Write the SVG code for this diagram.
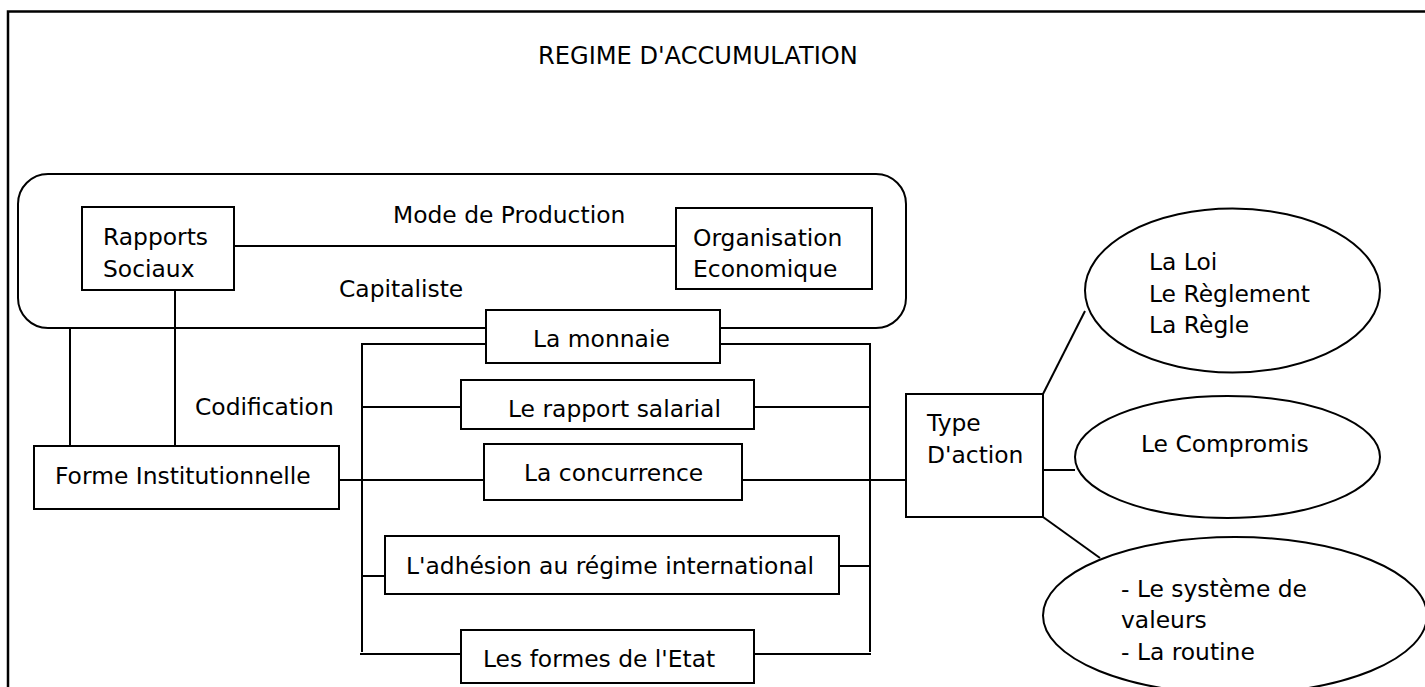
<svg xmlns="http://www.w3.org/2000/svg" width="1425" height="687" viewBox="0 0 1425 687">
<style>
text{font-family:"DejaVu Sans","Liberation Sans",sans-serif;font-size:23.4px;fill:#000}
.b{fill:#fff;stroke:#000;stroke-width:2}
.c line,.c path{stroke:#000;stroke-width:2;fill:none}
</style>
<rect width="1425" height="687" fill="#fff"/>
<path d="M8,687 V11.5 H1425" fill="none" stroke="#000" stroke-width="2.5"/>
<text id="title" x="538" y="64" style="font-size:24.1px">REGIME D'ACCUMULATION</text>
<g id="mode-production">
<rect class="b" x="18" y="174" width="888" height="154" rx="30"/>
<text x="393" y="223">Mode de Production</text>
<text x="339" y="297">Capitaliste</text>
</g>
<g class="c" id="connectors">
<line x1="234" y1="246" x2="676" y2="246"/>
<line x1="70" y1="328" x2="70" y2="446"/>
<line x1="175" y1="290" x2="175" y2="446"/>
<line x1="339" y1="480" x2="484" y2="480"/>
<line x1="362" y1="344" x2="362" y2="652"/>
<line x1="361" y1="344" x2="486" y2="344"/>
<line x1="362" y1="407" x2="461" y2="407"/>
<line x1="362" y1="576" x2="385" y2="576"/>
<line x1="360" y1="654" x2="461" y2="654"/>
<line x1="720" y1="344" x2="871" y2="344"/>
<line x1="870" y1="344" x2="870" y2="652"/>
<line x1="754" y1="407" x2="871" y2="407"/>
<line x1="742" y1="480" x2="906" y2="480"/>
<line x1="839" y1="566" x2="871" y2="566"/>
<line x1="754" y1="654" x2="871" y2="654"/>
<line x1="1043" y1="394" x2="1085" y2="311"/>
<line x1="1043" y1="470" x2="1075" y2="470"/>
<line x1="1043" y1="517" x2="1100" y2="558"/>
</g>
<text id="codification" x="195" y="415">Codification</text>
<g id="rapports-sociaux">
<rect class="b" x="82" y="207" width="152" height="83"/>
<text x="103" y="245">Rapports</text>
<text x="103" y="277">Sociaux</text>
</g>
<g id="organisation-economique">
<rect class="b" x="676" y="208" width="196" height="81"/>
<text x="693" y="246">Organisation</text>
<text x="693" y="277">Economique</text>
</g>
<g id="forme-institutionnelle">
<rect class="b" x="34" y="446" width="305" height="63"/>
<text x="55" y="484">Forme Institutionnelle</text>
</g>
<g id="la-monnaie">
<rect class="b" x="486" y="310" width="234" height="53"/>
<text x="533" y="347">La monnaie</text>
</g>
<g id="rapport-salarial">
<rect class="b" x="461" y="380" width="293" height="49"/>
<text x="508" y="417">Le rapport salarial</text>
</g>
<g id="la-concurrence">
<rect class="b" x="484" y="444" width="258" height="56"/>
<text x="524" y="481">La concurrence</text>
</g>
<g id="adhesion">
<rect class="b" x="385" y="536" width="454" height="58"/>
<text x="406" y="574">L'adhésion au régime international</text>
</g>
<g id="formes-etat">
<rect class="b" x="461" y="630" width="293" height="53"/>
<text x="483" y="667">Les formes de l'Etat</text>
</g>
<g id="type-action">
<rect class="b" x="906" y="394" width="137" height="123"/>
<text x="927" y="431">Type</text>
<text x="927" y="463">D'action</text>
</g>
<g id="loi">
<ellipse class="b" cx="1232.5" cy="290.5" rx="147.5" ry="82"/>
<text x="1149" y="270">La Loi</text>
<text x="1149" y="302">Le Règlement</text>
<text x="1149" y="333">La Règle</text>
</g>
<g id="compromis">
<ellipse class="b" cx="1227.5" cy="457" rx="152.5" ry="61"/>
<text x="1141" y="452">Le Compromis</text>
</g>
<g id="valeurs">
<ellipse class="b" cx="1235" cy="615.5" rx="192" ry="78.5"/>
<text x="1121" y="597">- Le système de</text>
<text x="1121" y="628">valeurs</text>
<text x="1121" y="660">- La routine</text>
</g>
</svg>
